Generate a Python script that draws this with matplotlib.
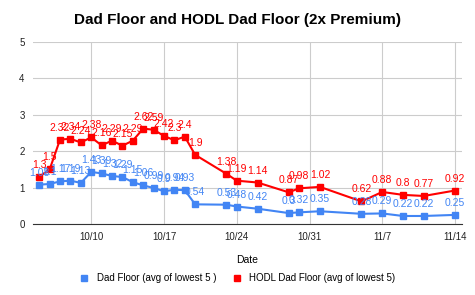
import datetime as dt
import matplotlib
matplotlib.use("Agg")
import matplotlib.pyplot as plt

plt.rcParams['font.family'] = ['Liberation Sans', 'DejaVu Sans']

dates = ["10/5", "10/6", "10/7", "10/8", "10/9", "10/10", "10/11", "10/12", "10/13",
         "10/14", "10/15", "10/16", "10/17", "10/18", "10/19", "10/20", "10/23",
         "10/24", "10/26", "10/29", "10/30", "11/1", "11/5", "11/7", "11/9", "11/11", "11/14"]
dad_floor = [1.08, 1.1, 1.17, 1.19, 1.13, 1.43, 1.39, 1.32, 1.29, 1.15, 1.06, 0.99,
             0.9, 0.94, 0.93, 0.54, 0.53, 0.48, 0.42, 0.3, 0.32, 0.35, 0.28, 0.29,
             0.22, 0.22, 0.25]
hodl_floor = [1.3, 1.5, 2.32, 2.34, 2.24, 2.38, 2.16, 2.29, 2.15, 2.29, 2.62, 2.59,
              2.42, 2.3, 2.4, 1.9, 1.38, 1.19, 1.14, 0.87, 0.98, 1.02, 0.62, 0.88,
              0.8, 0.77, 0.92]
tick_dates = ["10/10", "10/17", "10/24", "10/31", "11/7", "11/14"]

def to_date(s):
    m, d = s.split("/")
    return dt.datetime(2021, int(m), int(d))

x = [to_date(s) for s in dates]

blue = "#4285F4"
red = "#FF0000"

fig = plt.figure(figsize=(4.75, 2.95), dpi=100)
ax = fig.add_axes([0.0695, 0.2407, 0.9031, 0.6169])

ax.plot(x, dad_floor, color=blue, lw=1.5, marker="s", ms=5, label="Dad Floor (avg of lowest 5 )", zorder=3)
ax.plot(x, hodl_floor, color=red, lw=1.5, marker="s", ms=5, label="HODL Dad Floor (avg of lowest 5)", zorder=3)

# data labels above each point
for xi, v in zip(x, dad_floor):
    ax.annotate(f"{v:g}", (xi, v), xytext=(0, 5), textcoords="offset points",
                ha="center", va="bottom", fontsize=7.5, color=blue, zorder=4)
for xi, v in zip(x, hodl_floor):
    ax.annotate(f"{v:g}", (xi, v), xytext=(0, 5), textcoords="offset points",
                ha="center", va="bottom", fontsize=7.5, color=red, zorder=4)

ax.set_ylim(0, 5)
ax.set_yticks([0, 1, 2, 3, 4, 5])
ax.set_xlim(to_date("10/10") - dt.timedelta(days=5.6), to_date("11/14") + dt.timedelta(days=0.67))
ax.set_xticks([to_date(s) for s in tick_dates])
ax.set_xticklabels(tick_dates)

ax.grid(True, color="#cccccc", lw=0.8)
ax.set_axisbelow(True)
for side in ["top", "right", "left"]:
    ax.spines[side].set_visible(False)
ax.spines["bottom"].set_color("#333333")
ax.tick_params(length=0, labelsize=7, colors="#222222", pad=6)

ax.set_xlabel("Date", fontsize=7.5, labelpad=9)
fig.suptitle("Dad Floor and HODL Dad Floor (2x Premium)", fontsize=11, fontweight="bold", y=0.955)

leg = fig.legend(loc="lower center", bbox_to_anchor=(0.5, 0.01), ncol=2, frameon=False, fontsize=7,
                 handlelength=1.0, columnspacing=1.6, markerscale=1.0)
for h in leg.legend_handles:
    h.set_linestyle("")

fig.savefig("out.png", dpi=100)
